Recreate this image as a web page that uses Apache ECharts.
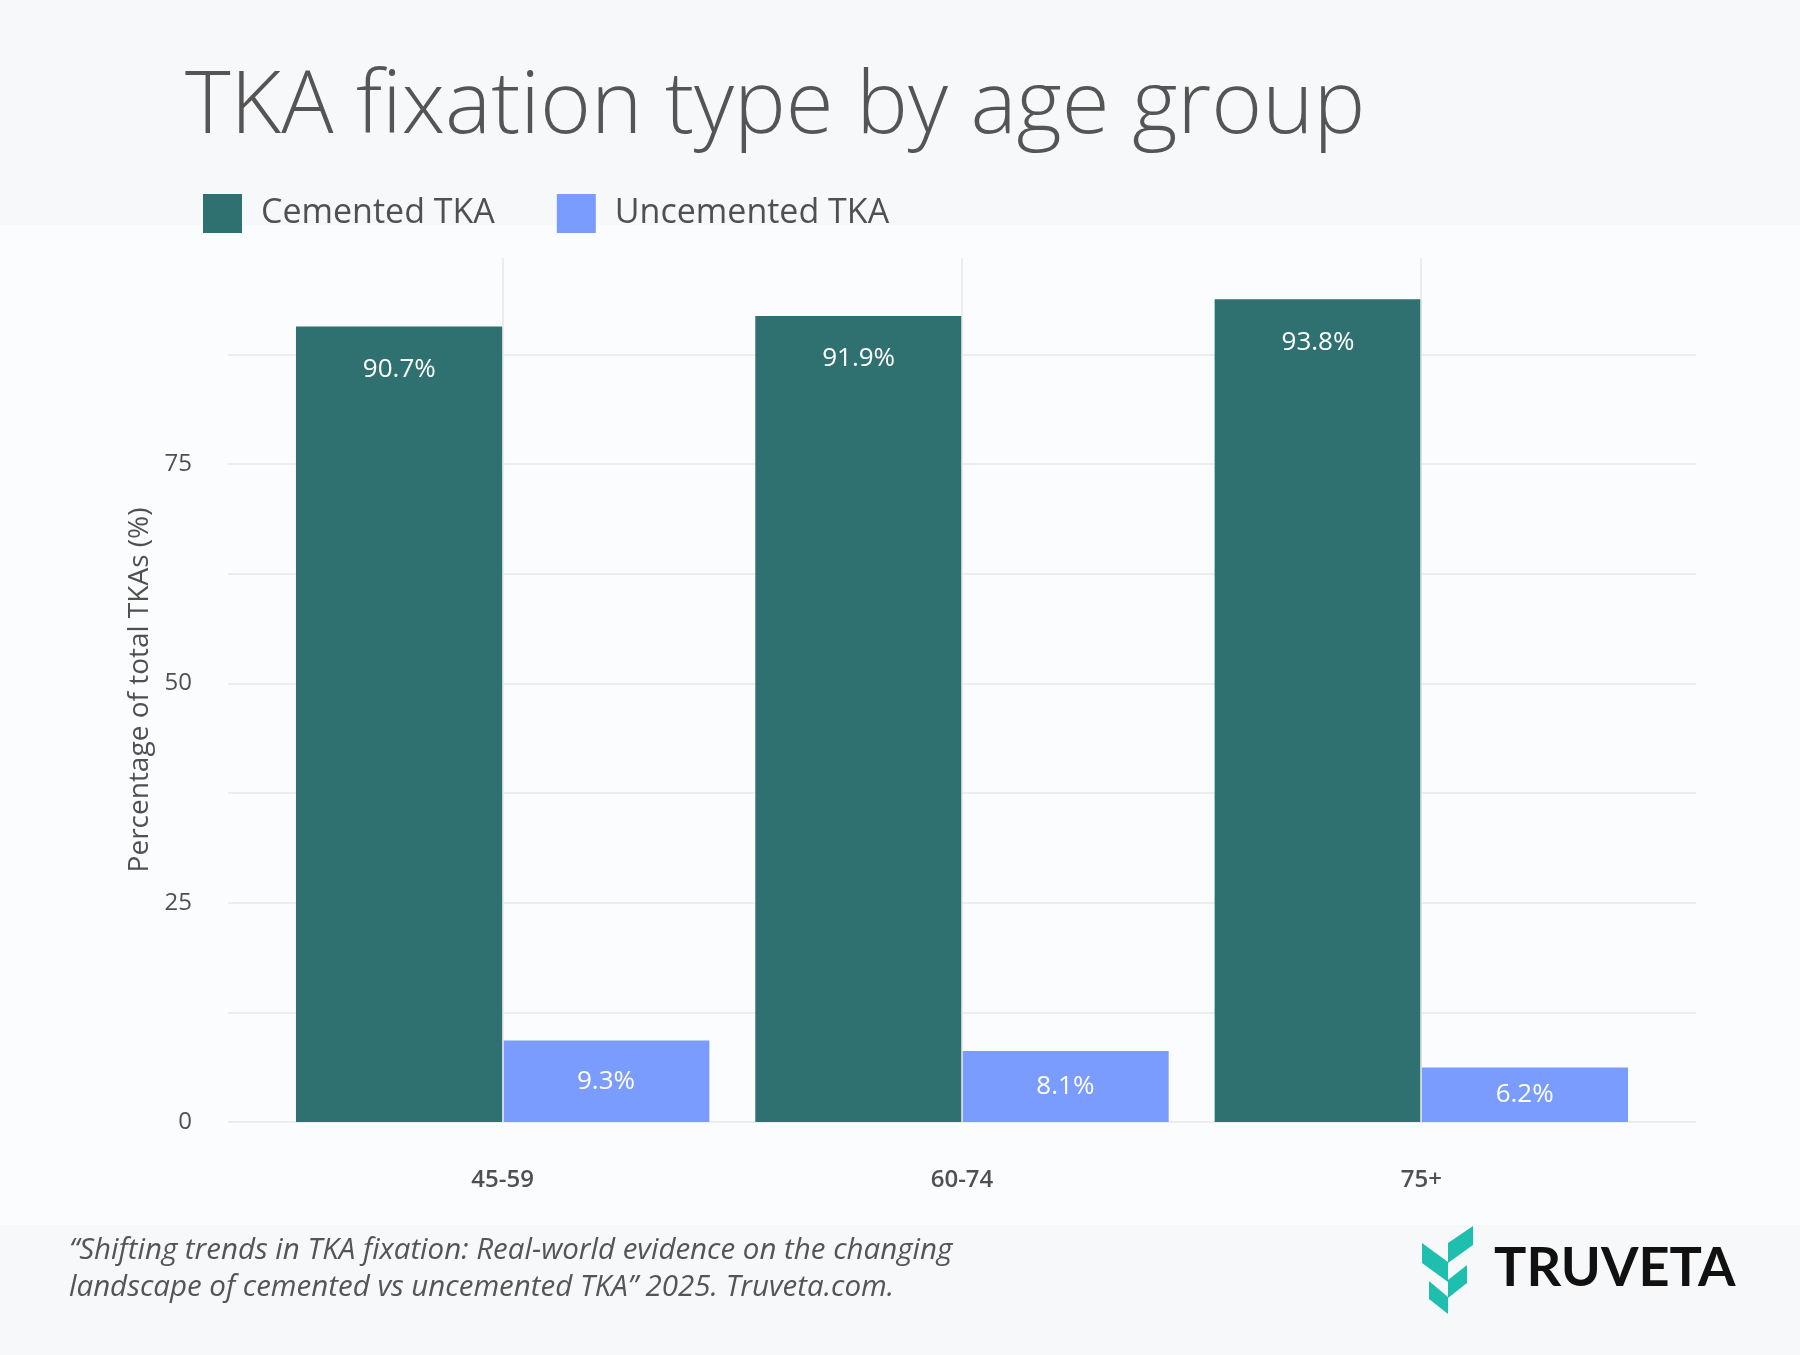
<!DOCTYPE html>
<html><head><meta charset="utf-8">
<script src="https://cdn.jsdelivr.net/npm/echarts@6/dist/echarts.min.js"></script>
<style>html,body{margin:0;padding:0;background:#f7f8fa}#c{width:1800px;height:1355px}</style>
</head><body><div id="c"></div>
<script>
const categories = ['45-59', '60-74', '75+'];
const cemented = [90.7, 91.9, 93.8];
const uncemented = [9.3, 8.1, 6.2];
const yTicks = [0, 25, 50, 75];

const chart = echarts.init(document.getElementById('c'));
const F = '"Open Sans", "Noto Sans", sans-serif';
const teal = '#2e7170', blue = '#7b9cff', txt = '#505050';
const yMax = 98.5;
const lbl = {show: true, position: 'insideTop', distance: 30, color: '#fff', fontSize: 26, fontFamily: F,
  formatter: p => p.value.toFixed(1) + '%'};
const lbl2 = Object.assign({}, lbl, {position: 'inside'});
const gl = '#e8e9ec';
chart.setOption({
  backgroundColor: '#f7f8fa',
  animation: false,
  title: {text: 'TKA fixation type by age group', left: 180, top: 60,
    textStyle: {fontFamily: F, fontSize: 87, fontWeight: 300, color: '#555'}},
  legend: {left: 198, top: 189, itemWidth: 39, itemHeight: 39, itemGap: 62,
    textStyle: {fontFamily: F, fontSize: 34, color: txt, padding: [0, 0, 0, 14]},
    icon: 'rect', data: ['Cemented TKA', 'Uncemented TKA']},
  graphic: [
    {type: 'rect', z: -10, shape: {x: 0, y: 225, width: 1800, height: 1000}, style: {fill: '#fbfcfd'}},
    {type: 'text', left: 69, top: 1232, style: {text: '\u201CShifting trends in TKA fixation: Real-world evidence on the changing\nlandscape of cemented vs uncemented TKA\u201D 2025. Truveta.com.',
      font: 'italic 29.5px "Open Sans"', fill: '#555', lineHeight: 37}},
    {type: 'polygon', shape: {points: [[1422,1243],[1448,1262],[1448,1282],[1422,1263]]}, style: {fill: '#1fbfb0'}},
    {type: 'polygon', shape: {points: [[1448,1243],[1473,1226],[1473,1245],[1448,1263]]}, style: {fill: '#1fbfb0'}},
    {type: 'polygon', shape: {points: [[1448,1280],[1467,1265],[1467,1283],[1448,1298]]}, style: {fill: '#1fbfb0'}},
    {type: 'polygon', shape: {points: [[1429,1281],[1448,1297],[1448,1314],[1429,1299]]}, style: {fill: '#1fbfb0'}},
    {type: 'text', left: 1494, top: 1242, style: {text: 'TRUVETA', font: 'bold 54px Lato', fill: '#111'}}
  ],
  grid: [
    {left: 228, right: 104, top: 258, bottom: 1355 - 1122},
    {left: 273, right: 1800 - 1651, top: 258, bottom: 1355 - 1122}
  ],
  xAxis: [
    {gridIndex: 0, type: 'value', min: -0.6, max: 2.6, show: false},
    {gridIndex: 1, type: 'category', data: categories, axisLine: {show: false}, axisTick: {show: false},
      axisLabel: {margin: 46, fontFamily: F, fontSize: 24, fontWeight: 600, color: txt}}
  ],
  yAxis: [
    {gridIndex: 0, type: 'value', min: 0, max: yMax, interval: 12.5,
      name: 'Percentage of total TKAs (%)', nameLocation: 'middle', nameGap: 70,
      nameTextStyle: {fontFamily: F, fontSize: 28, color: txt},
      axisLine: {show: false}, axisTick: {show: false},
      axisLabel: {margin: 36, fontFamily: F, fontSize: 24, color: txt,
        formatter: v => yTicks.includes(v) ? String(v) : ''},
      splitLine: {lineStyle: {color: [gl, gl, gl, gl, gl, gl, gl, gl, 'rgba(0,0,0,0)'], width: 1.5}}},
    {gridIndex: 1, type: 'value', min: 0, max: yMax, show: false}
  ],
  series: [
    {type: 'line', xAxisIndex: 0, yAxisIndex: 0, data: [], silent: true,
      markLine: {symbol: 'none', silent: true, label: {show: false},
        lineStyle: {color: gl, type: 'solid', width: 1.5},
        data: [{xAxis: 0}, {xAxis: 1}, {xAxis: 2}]}},
    {name: 'Cemented TKA', type: 'bar', xAxisIndex: 1, yAxisIndex: 1, data: cemented,
      itemStyle: {color: teal}, barGap: '0%', barCategoryGap: '10%', label: lbl},
    {name: 'Uncemented TKA', type: 'bar', xAxisIndex: 1, yAxisIndex: 1, data: uncemented,
      itemStyle: {color: blue}, label: lbl2}
  ]
});
</script></body></html>
